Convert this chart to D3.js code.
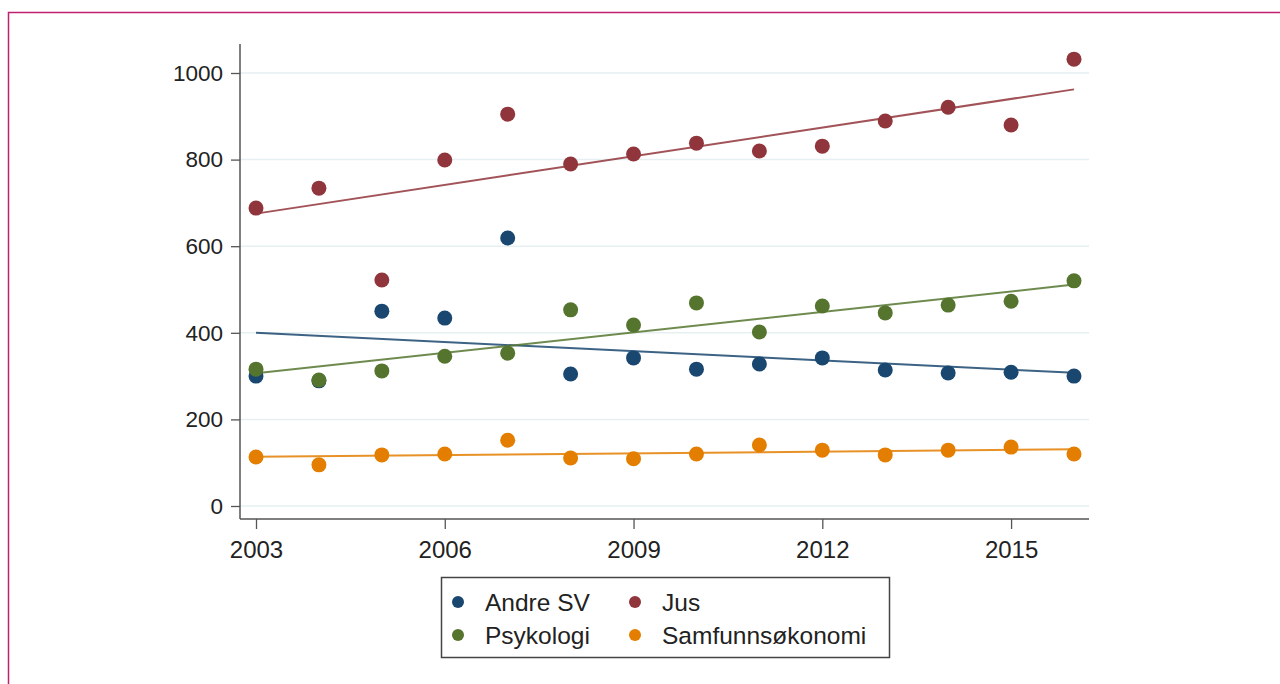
<!DOCTYPE html>
<html><head><meta charset="utf-8">
<script src="https://cdn.jsdelivr.net/npm/d3@7"></script>
<style>body{margin:0;background:#fff}svg{display:block}text{font-family:"Liberation Sans",Arial,sans-serif;fill:#222}</style>
</head><body>
<svg id="c" width="1280" height="684"></svg>
<script>
const years = [2003,2004,2005,2006,2007,2008,2009,2010,2011,2012,2013,2014,2015,2016];
const andreSV = [300,289,450,434,619,305,342,316,328,342,314,307,309,300];
const jus = [688,734,522,799,905,790,813,838,820,831,889,921,880,1032];
const psykologi = [316,291,312,346,353,453,418,469,402,462,446,464,473,520];
const samfunn = [113,95,118,120,152,111,109,120,141,129,118,129,136,120];
const seriesNames = ["Andre SV","Jus","Psykologi","Samfunnsøkonomi"];
const seriesColors = ["#1a476f","#90353b","#55752f","#e37e00"];
const xTicks = [2003,2006,2009,2012,2015];
const yTicks = [0,200,400,600,800,1000];

const seriesVals = [andreSV, jus, psykologi, samfunn];
const svg = d3.select("#c");

// outer frame
svg.append("path").attr("d","M8.5,700 L8.5,12.5 L1290,12.5").attr("fill","none").attr("stroke","#c0206e").attr("stroke-width",1.5);

const x = d3.scaleLinear().domain([2003,2016]).range([256,1074]);
const y = d3.scaleLinear().domain([0,1000]).range([506,73]);
const plotL = 240, plotR = 1089, plotT = 44, plotB = 519;
const ff = "'Liberation Sans',Arial,sans-serif";

// gridlines
svg.append("g").selectAll("line").data(yTicks).join("line")
  .attr("x1",plotL).attr("x2",plotR).attr("y1",d=>y(d)).attr("y2",d=>y(d))
  .attr("stroke","#e6eff1").attr("stroke-width",1.5);

// y axis
const yAx = svg.append("g").attr("transform",`translate(${plotL},0)`)
  .call(d3.axisLeft(y).tickValues(yTicks).tickSize(9).tickPadding(8).tickFormat(d3.format("d")));
yAx.select(".domain").remove();
yAx.selectAll("line").attr("stroke","#555").attr("stroke-width",1.3);
yAx.selectAll("text").attr("font-size",22.5).attr("fill","#222").style("font-family",ff);
svg.append("line").attr("x1",plotL).attr("x2",plotL).attr("y1",plotT).attr("y2",plotB).attr("stroke","#555").attr("stroke-width",1.5);

// x axis
const xAx = svg.append("g").attr("transform",`translate(0,${plotB})`)
  .call(d3.axisBottom(x).tickValues(xTicks).tickSize(10).tickPadding(12).tickFormat(d3.format("d")));
xAx.select(".domain").remove();
xAx.selectAll("line").attr("stroke","#555").attr("stroke-width",1.3);
xAx.selectAll("text").attr("font-size",24).attr("fill","#222").style("font-family",ff);
svg.append("line").attr("x1",plotL).attr("x2",plotR).attr("y1",plotB).attr("y2",plotB).attr("stroke","#555").attr("stroke-width",1.5);

// linear fits
function fit(vals){
  const mx = d3.mean(years), my = d3.mean(vals);
  let num=0, den=0;
  years.forEach((yr,i)=>{num+=(yr-mx)*(vals[i]-my); den+=(yr-mx)*(yr-mx);});
  const b = num/den, a = my - b*mx;
  return [2003,2016].map(t=>[t, a+b*t]);
}
const line = d3.line().x(d=>x(d[0])).y(d=>y(d[1]));
seriesVals.forEach((vals,i)=>{
  svg.append("path").attr("d",line(fit(vals))).attr("fill","none")
    .attr("stroke",seriesColors[i]).attr("stroke-width",2).attr("stroke-opacity",0.85);
});

// points
seriesVals.forEach((vals,i)=>{
  svg.append("g").selectAll("circle").data(vals).join("circle")
    .attr("cx",(d,j)=>x(years[j])).attr("cy",d=>y(d)).attr("r",7.5)
    .attr("fill",seriesColors[i]);
});

// legend
const lg = svg.append("g");
lg.append("rect").attr("x",441.5).attr("y",577.5).attr("width",448).attr("height",80)
  .attr("fill","#fff").attr("stroke","#444").attr("stroke-width",1.5);
const legPos = [[458,602],[635,602],[458,635],[635,635]];
seriesNames.forEach((n,i)=>{
  lg.append("circle").attr("cx",legPos[i][0]).attr("cy",legPos[i][1]).attr("r",6).attr("fill",seriesColors[i]);
  lg.append("text").attr("x",legPos[i][0]+27).attr("y",legPos[i][1]+8.5).attr("font-size",24.5).style("font-family",ff).text(n);
});
</script>
</body></html>
